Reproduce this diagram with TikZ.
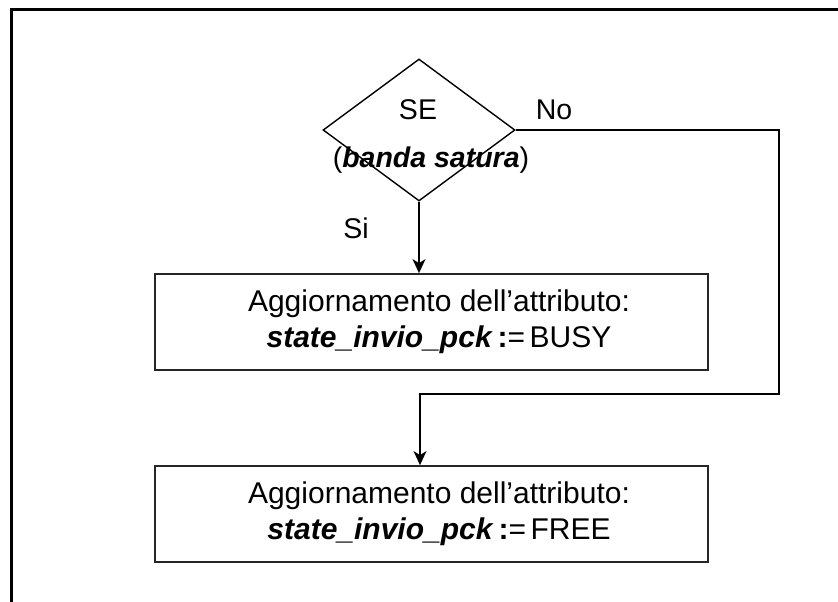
\documentclass[tikz,border=0pt]{standalone}
\usepackage{fontspec}
\setmainfont{Liberation Sans}
\usetikzlibrary{shapes.geometric,arrows.meta}
\begin{document}
\begin{tikzpicture}[x=1pt,y=-1pt,
  txt/.style={font=\fontsize{28.5}{36}\selectfont, inner sep=0pt},
  boxtxt/.style={font=\fontsize{30}{36}\selectfont, inner sep=0pt, align=center},
  boxnode/.style={draw, line width=1.8pt, draw=black!85, minimum width=553pt, minimum height=96pt, inner sep=0pt},
  conn/.style={line width=1.4pt},
  arr/.style={conn, -{Stealth[length=14pt,width=13pt,inset=4pt]}}]
\useasboundingbox (0,0) rectangle (838,602);
% frame
\coordinate (fbl) at (11,610);
\coordinate (ftl) at (11,10);
\coordinate (ftr) at (845,10);
\draw[line width=3pt] (fbl) -- (ftl) -- (ftr);
% decision
\node[diamond, draw, line width=1.4pt, minimum width=192pt, minimum height=142pt, inner sep=0pt] (dia) at (419,130) {};
\node[txt, anchor=base] (se) at (418,119) {SE};
\node[txt, anchor=base] (cond) at (431,167) {({\bfseries\itshape banda satura})};
\node[txt, anchor=base] (no) at (554,119) {No};
\node[txt, anchor=base] (si) at (356,238) {Si};
% boxes
\node[boxnode] (box1) at (431.5,322) {};
\node[boxtxt] (t1) at (439,322) {Aggiornamento dell’attributo:\\{\bfseries\itshape state\_invio\_pck}\hspace{0.2em}{\bfseries :}=\hspace{0.15em}BUSY};
\node[boxnode] (box2) at (431.5,514) {};
\node[boxtxt] (t2) at (439,514) {Aggiornamento dell’attributo:\\{\bfseries\itshape state\_invio\_pck}\hspace{0.2em}{\bfseries :}=\hspace{0.15em}FREE};
% connectors
\draw[arr] (dia.south) -- (dia.south |- box1.north);
\coordinate (nR) at (779,394);
\coordinate (nL) at (420,394);
\draw[arr] (dia.east) -| (nR) -- (nL) -- (nL |- box2.north);
\end{tikzpicture}
\end{document}
